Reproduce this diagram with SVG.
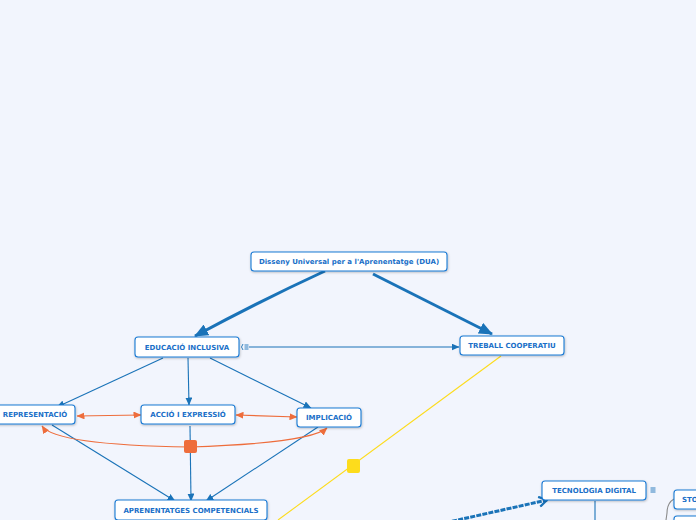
<svg xmlns="http://www.w3.org/2000/svg" width="696" height="520" viewBox="0 0 696 520">
<defs>
<style>
.box{fill:#fff;stroke:#1a7ad4;stroke-width:1.1}
.t{font-family:"DejaVu Sans",Verdana,sans-serif;font-weight:bold;font-size:7px;fill:#1a6fc8;text-anchor:middle;dominant-baseline:central}
.c{fill:none;stroke:#1a73b8;stroke-width:1.1}
.ct{fill:none;stroke:#1a73b8;stroke-width:3}
.o{fill:none;stroke:#ee6d3c;stroke-width:1.2}
</style>
<filter id="sh" x="-10%" y="-20%" width="120%" height="150%"><feDropShadow dx="0.5" dy="1" stdDeviation="0.8" flood-color="#000" flood-opacity="0.25"/></filter>
<marker id="a" viewBox="0 0 8 7" refX="7.5" refY="3.5" markerWidth="8" markerHeight="7" markerUnits="userSpaceOnUse" orient="auto"><path d="M0,0 L8,3.5 L0,7 z" fill="#1a73b8"/></marker>
<marker id="ab" viewBox="0 0 14 12" refX="13" refY="6" markerWidth="14" markerHeight="12" markerUnits="userSpaceOnUse" orient="auto"><path d="M0,0 L14,6 L0,12 z" fill="#1a73b8"/></marker>
<marker id="ao" viewBox="0 0 8 7" refX="7.5" refY="3.5" markerWidth="8" markerHeight="7" markerUnits="userSpaceOnUse" orient="auto-start-reverse"><path d="M0,0 L8,3.5 L0,7 z" fill="#ee6d3c"/></marker>
<marker id="ch" viewBox="0 0 10 12" refX="9" refY="6" markerWidth="10" markerHeight="12" markerUnits="userSpaceOnUse" orient="auto"><path d="M1,1 L9,6 L1,11" fill="none" stroke="#1a73b8" stroke-width="2.2"/></marker>
</defs>
<rect width="696" height="520" fill="#f2f5fd"/>
<g id="connectors">
<path class="ct" d="M325,271 Q262,300 195,336" marker-end="url(#ab)"/>
<path class="ct" d="M373,274 L492,334" marker-end="url(#ab)"/>
<path class="c" d="M249,347 L459,347" marker-end="url(#a)"/>
<path class="c" d="M163,358 L57,407" marker-end="url(#a)"/>
<path class="c" d="M188,358 L189,405" marker-end="url(#a)"/>
<path class="c" d="M210,358 L311,408" marker-end="url(#a)"/>
<path class="c" d="M52,425 L175,501" marker-end="url(#a)"/>
<path class="c" d="M190,426 L191,501" marker-end="url(#a)"/>
<path class="c" d="M318,427 L206,501" marker-end="url(#a)"/>
<path class="o" d="M77,416 L141,415" marker-start="url(#ao)" marker-end="url(#ao)"/>
<path class="o" d="M236,415 L297,417" marker-start="url(#ao)" marker-end="url(#ao)"/>
<path class="o" d="M42,426 Q55,445 190,447 Q310,443 327,428" marker-start="url(#ao)" marker-end="url(#ao)"/>
<rect x="184" y="440" width="13" height="13" rx="2" fill="#ee6d3c"/>
<path d="M501,356 L278,520" fill="none" stroke="#fddc1c" stroke-width="1.1"/>
<rect x="347" y="459" width="13" height="14" rx="2" fill="#fddc1c"/>
<path d="M440,524 L547,500" fill="none" stroke="#1a73b8" stroke-width="3" stroke-dasharray="5,1.2" marker-end="url(#ch)"/>
<path class="c" d="M595,501 L595,520"/>
<path d="M674,499 Q667,503 667,513 L666,520" fill="none" stroke="#8a8a8a" stroke-width="1.1"/>
<g fill="none" stroke="#1a73b8" stroke-width="0.9"><path d="M243,344 Q240,347 243,350"/><path d="M244.5,345 h4 M244.5,347 h4 M244.5,349 h4"/></g>
<g fill="none" stroke="#1a73b8" stroke-width="0.9"><path d="M650.5,488 h5 M650.5,490 h5 M650.5,492 h5"/></g>
</g>
<g id="n-dua"><rect class="box" x="251" y="252" width="196" height="19" rx="3" filter="url(#sh)"/><text class="t" x="349" y="262">Disseny Universal per a l'Aprenentatge (DUA)</text></g>
<g id="n-edu"><rect class="box" x="135" y="337" width="104" height="20" rx="3" filter="url(#sh)"/><text class="t" x="187" y="347.5">EDUCACIÓ INCLUSIVA</text></g>
<g id="n-treball"><rect class="box" x="460" y="336" width="104" height="19" rx="3" filter="url(#sh)"/><text class="t" x="512" y="346">TREBALL COOPERATIU</text></g>
<g id="n-repr"><rect class="box" x="-5" y="405" width="80" height="19" rx="3" filter="url(#sh)"/><text class="t" x="35" y="415">REPRESENTACIÓ</text></g>
<g id="n-accio"><rect class="box" x="141" y="405" width="94" height="19" rx="3" filter="url(#sh)"/><text class="t" x="188" y="414.5">ACCIÓ I EXPRESSIÓ</text></g>
<g id="n-impl"><rect class="box" x="297" y="408" width="64" height="19" rx="3" filter="url(#sh)"/><text class="t" x="329" y="417.5">IMPLICACIÓ</text></g>
<g id="n-apren"><rect class="box" x="115" y="500" width="152" height="20" rx="3" filter="url(#sh)"/><text class="t" x="191" y="510.5">APRENENTATGES COMPETENCIALS</text></g>
<g id="n-tec"><rect class="box" x="542" y="481" width="104" height="19" rx="3" filter="url(#sh)"/><text class="t" x="594" y="490.5">TECNOLOGIA DIGITAL</text></g>
<g id="n-sto"><rect class="box" x="674" y="490" width="40" height="19" rx="3" filter="url(#sh)"/><text class="t" x="682" y="499.5" style="text-anchor:start">STO</text></g>
<g id="n-next"><rect class="box" x="674" y="516" width="40" height="19" rx="3" filter="url(#sh)"/></g>
</svg>
